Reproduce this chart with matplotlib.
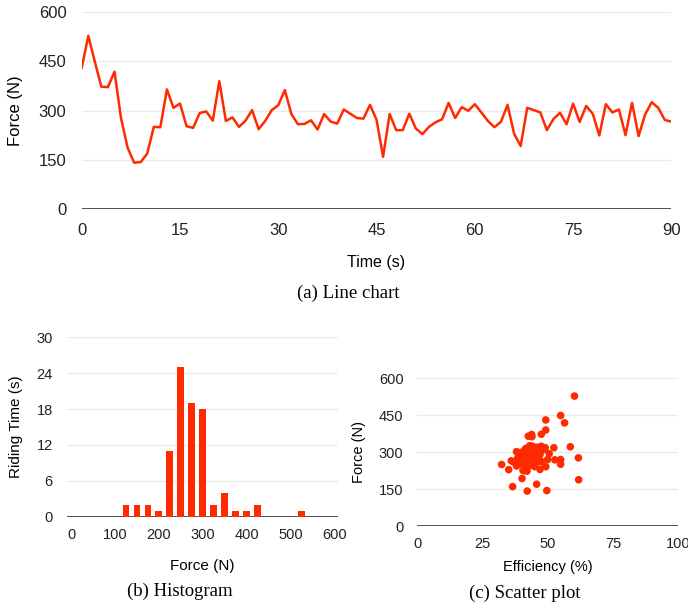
import matplotlib.pyplot as plt
import numpy as np

# force per second of the ride (0..90 s)
force = [431, 528, 449, 373, 372, 419, 277, 188, 142, 144,
         170, 251, 250, 365, 309, 322, 253, 248, 293, 298,
         270, 390, 269, 280, 251, 270, 302, 244, 269, 302,
         317, 363, 290, 259, 260, 271, 243, 290, 267, 261,
         304, 291, 278, 276, 318, 273, 160, 290, 241, 241,
         291, 246, 229, 251, 265, 274, 324, 278, 311, 300,
         320, 295, 269, 250, 267, 318, 230, 193, 309, 302,
         295, 241, 275, 294, 259, 322, 266, 315, 291, 225,
         320, 295, 304, 226, 324, 223, 289, 326, 309, 272, 267]
time = np.arange(len(force))

# efficiency for each second (scatter x)
efficiency = [49.2, 60.2, 54.9, 47.5, 43.8, 56.4, 61.7, 61.8, 42.1, 49.6,
              45.7, 54.9, 32.3, 42.5, 44.0, 58.6, 40.0, 43.0, 46.0, 39.0,
              49.9, 49.2, 52.7, 41.0, 44.5, 54.9, 47.0, 38.0, 42.0, 45.0,
              48.0, 43.9, 40.5, 37.0, 46.0, 39.5, 41.5, 44.0, 43.0, 47.5,
              41.0, 46.5, 38.5, 44.5, 52.3, 40.0, 36.5, 42.5, 45.0, 49.2,
              39.0, 43.5, 35.0, 41.0, 36.0, 45.5, 44.0, 42.0, 48.5, 40.0,
              46.0, 43.0, 39.0, 42.0, 47.0, 49.0, 47.0, 40.1, 42.5, 38.0,
              45.0, 41.5, 43.5, 50.5, 38.5, 43.0, 44.5, 41.5, 47.0, 41.0,
              45.0, 42.0, 44.0, 40.5, 47.5, 42.0, 44.0, 43.0, 46.0, 40.0, 43.5]

# histogram of force (bin centres, seconds in each bin)
bin_centers = [125, 150, 175, 200, 225, 250, 275, 300, 325, 350, 375, 400, 425, 450, 475, 500, 525]
riding_time = [2, 2, 2, 1, 11, 25, 19, 18, 2, 4, 1, 1, 2, 0, 0, 0, 1]

red = '#ff2a00'
grid_c = '#ebebeb'
base_c = '#333333'
sans = ['Liberation Sans', 'DejaVu Sans']
serif = ['Liberation Serif', 'DejaVu Serif']

plt.rcParams['font.family'] = sans


def style_axes(ax, tick_size, pad_y, pad_x):
    for s in ['top', 'right', 'left', 'bottom']:
        ax.spines[s].set_visible(False)
    ax.yaxis.grid(True, color=grid_c, linewidth=1.0)
    ax.set_axisbelow(True)
    ax.axhline(0, color=base_c, linewidth=1.2, zorder=1)
    ax.tick_params(axis='y', length=0, pad=pad_y, labelsize=tick_size, colors='#222222')
    ax.tick_params(axis='x', length=0, pad=pad_x, labelsize=tick_size, colors='#222222')


fig = plt.figure(figsize=(6.88, 6.07), dpi=100)

# (a) line chart
ax1 = fig.add_axes([0.1188, 0.655, 0.857, 0.325])
ax1.plot(time, force, color=red, linewidth=1.8, zorder=3)
ax1.set_xlim(0, 90)
ax1.set_ylim(0, 600)
ax1.set_xticks(np.arange(0, 91, 15))
ax1.set_yticks(np.arange(0, 601, 150))
style_axes(ax1, 12, 11, 10)
ax1.set_xlabel('Time (s)', fontsize=11.5)
ax1.set_ylabel('Force (N)', fontsize=12)
ax1.xaxis.set_label_coords(0.5, -0.232)
ax1.yaxis.set_label_coords(-0.1, 0.5)
fig.text(0.506, 0.517, '(a) Line chart', family=serif, fontsize=13.5,
         ha='center', va='center')

# (b) histogram
ax2 = fig.add_axes([0.097, 0.1488, 0.395, 0.2955])
ax2.bar(bin_centers, riding_time, width=15, color=red, zorder=3)
ax2.set_xlim(-10, 610)
ax2.set_ylim(0, 30)
ax2.set_xticks(np.arange(0, 601, 100))
ax2.set_yticks(np.arange(0, 31, 6))
style_axes(ax2, 10.5, 10, 8)
ax2.set_xlabel('Force (N)', fontsize=11)
ax2.set_ylabel('Riding Time (s)', fontsize=11)
ax2.xaxis.set_label_coords(0.5, -0.236)
ax2.yaxis.set_label_coords(-0.161, 0.5)
fig.text(0.262, 0.026, '(b) Histogram', family=serif, fontsize=13.5,
         ha='center', va='center')

# (c) scatter plot
ax3 = fig.add_axes([0.6066, 0.1334, 0.3794, 0.2433])
ax3.scatter(efficiency, force, s=30, color=red, edgecolors='none', zorder=3)
ax3.set_xlim(0, 100)
ax3.set_ylim(0, 600)
ax3.set_xticks(np.arange(0, 101, 25))
ax3.set_yticks(np.arange(0, 601, 150))
style_axes(ax3, 10.5, 10, 8)
ax3.set_xlabel('Efficiency (%)', fontsize=10.5)
ax3.set_ylabel('Force (N)', fontsize=10.5)
ax3.xaxis.set_label_coords(0.5, -0.23)
ax3.yaxis.set_label_coords(-0.197, 0.5)
fig.text(0.763, 0.023, '(c) Scatter plot', family=serif, fontsize=13.5,
         ha='center', va='center')

fig.savefig('out.png', dpi=100)
